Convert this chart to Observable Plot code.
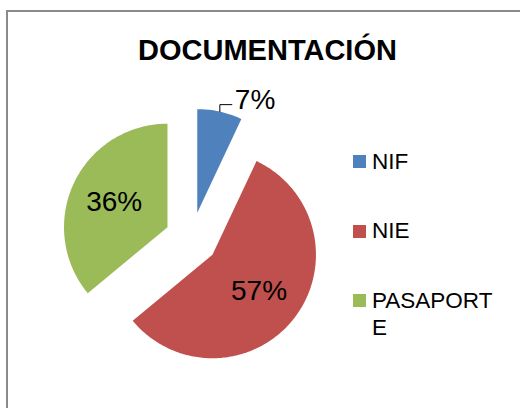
<!DOCTYPE html>
<html>
<head>
<meta charset="utf-8">
<script src="https://cdn.jsdelivr.net/npm/d3@7"></script>
<script src="https://cdn.jsdelivr.net/npm/@observablehq/plot@0.6"></script>
<style>
  html, body { margin: 0; padding: 0; background: #fff; overflow: hidden; width: 520px; height: 408px; }
  #frame { position: absolute; left: 6px; top: 10px; width: 600px; height: 500px; border: 2px solid #8a8a8a; box-sizing: border-box; }
  #chart { position: absolute; left: 0; top: 0; }
  #title { position: absolute; left: 267.5px; top: 35.5px; transform: translateX(-50%); white-space: nowrap;
           font-family: "Liberation Sans", Arial, sans-serif; font-weight: bold; font-size: 29px; line-height: 29px; color: #000; }
  .sw { position: absolute; width: 13px; height: 13px; }
  .lt { position: absolute; width: 132px; word-break: break-all; font-family: "Liberation Sans", Arial, sans-serif;
        font-size: 22.5px; line-height: 27px; color: #000; }
</style>
</head>
<body>
<div id="frame"></div>
<div id="chart"></div>
<div id="title">DOCUMENTACIÓN</div>
<div id="legend"></div>
<script>
// ---- data ----
const categories = ["NIF", "NIE", "PASAPORTE"];
const values = [7, 57, 36];
const colors = ["#4F81BD", "#C0504D", "#9BBB59"];

// ---- layout ----
const W = 520, H = 408;
const cx = 191, cy = 238, R = 103.5, explode = 26.5;

const total = d3.sum(values);
let acc = 0;
const slices = values.map((v, i) => {
  const a0 = acc / total * 2 * Math.PI;
  acc += v;
  const a1 = acc / total * 2 * Math.PI;
  const mid = (a0 + a1) / 2;
  const ox = cx + explode * Math.sin(mid), oy = cy - explode * Math.cos(mid);
  return {cat: categories[i], value: v, a0, a1, mid, ox, oy, pct: Math.round(v / total * 100) + "%"};
});

const piePts = [];
for (const s of slices) {
  piePts.push({cat: s.cat, x: s.ox, y: s.oy});
  const n = Math.max(4, Math.ceil((s.a1 - s.a0) / (Math.PI / 180)));
  for (let k = 0; k <= n; k++) {
    const a = s.a0 + (s.a1 - s.a0) * k / n;
    piePts.push({cat: s.cat, x: s.ox + R * Math.sin(a), y: s.oy - R * Math.cos(a)});
  }
}

const inside = slices.filter(s => s.value / total >= 0.1).map(s => ({
  label: s.pct, x: s.ox + 0.57 * R * Math.sin(s.mid), y: s.oy - 0.57 * R * Math.cos(s.mid)
}));
const outsideS = slices.filter(s => s.value / total < 0.1);
const leaders = [], outside = [];
for (const s of outsideS) {
  const px = s.ox + R * Math.sin(s.mid), py = s.oy - R * Math.cos(s.mid);
  leaders.push({cat: s.cat, x: px, y: py}, {cat: s.cat, x: px, y: py - 7}, {cat: s.cat, x: px + 12, y: py - 7});
  outside.push({label: s.pct, x: px + 15, y: py - 12});
}

const plot = Plot.plot({
  width: W, height: H,
  margin: 0,
  x: {domain: [0, W], range: [0, W], axis: null},
  y: {domain: [0, H], range: [0, H], axis: null},
  color: {domain: categories, range: colors},
  style: {background: "transparent", overflow: "visible"},
  marks: [
    Plot.line(piePts, {x: "x", y: "y", z: "cat", fill: "cat", stroke: null, curve: "linear-closed"}),
    Plot.line(leaders, {x: "x", y: "y", z: "cat", stroke: "#000", strokeWidth: 1}),
    Plot.text(inside, {x: "x", y: "y", text: "label", fontSize: 28, fontFamily: "Liberation Sans, Arial, sans-serif", fill: "#000", textAnchor: "middle", lineAnchor: "middle"}),
    Plot.text(outside, {x: "x", y: "y", text: "label", fontSize: 28, fontFamily: "Liberation Sans, Arial, sans-serif", fill: "#000", textAnchor: "start", lineAnchor: "middle"})
  ]
});
document.getElementById("chart").appendChild(plot);

// ---- legend ----
const lg = document.getElementById("legend");
categories.forEach((c, i) => {
  const top = 155 + 69.5 * i;
  const sw = document.createElement("div");
  sw.className = "sw";
  sw.style.left = "353px"; sw.style.top = top + "px"; sw.style.background = colors[i];
  lg.appendChild(sw);
  const t = document.createElement("div");
  t.className = "lt";
  t.style.left = "372px"; t.style.top = (top - 7.3) + "px";
  t.textContent = c;
  lg.appendChild(t);
});
</script>
</body>
</html>
